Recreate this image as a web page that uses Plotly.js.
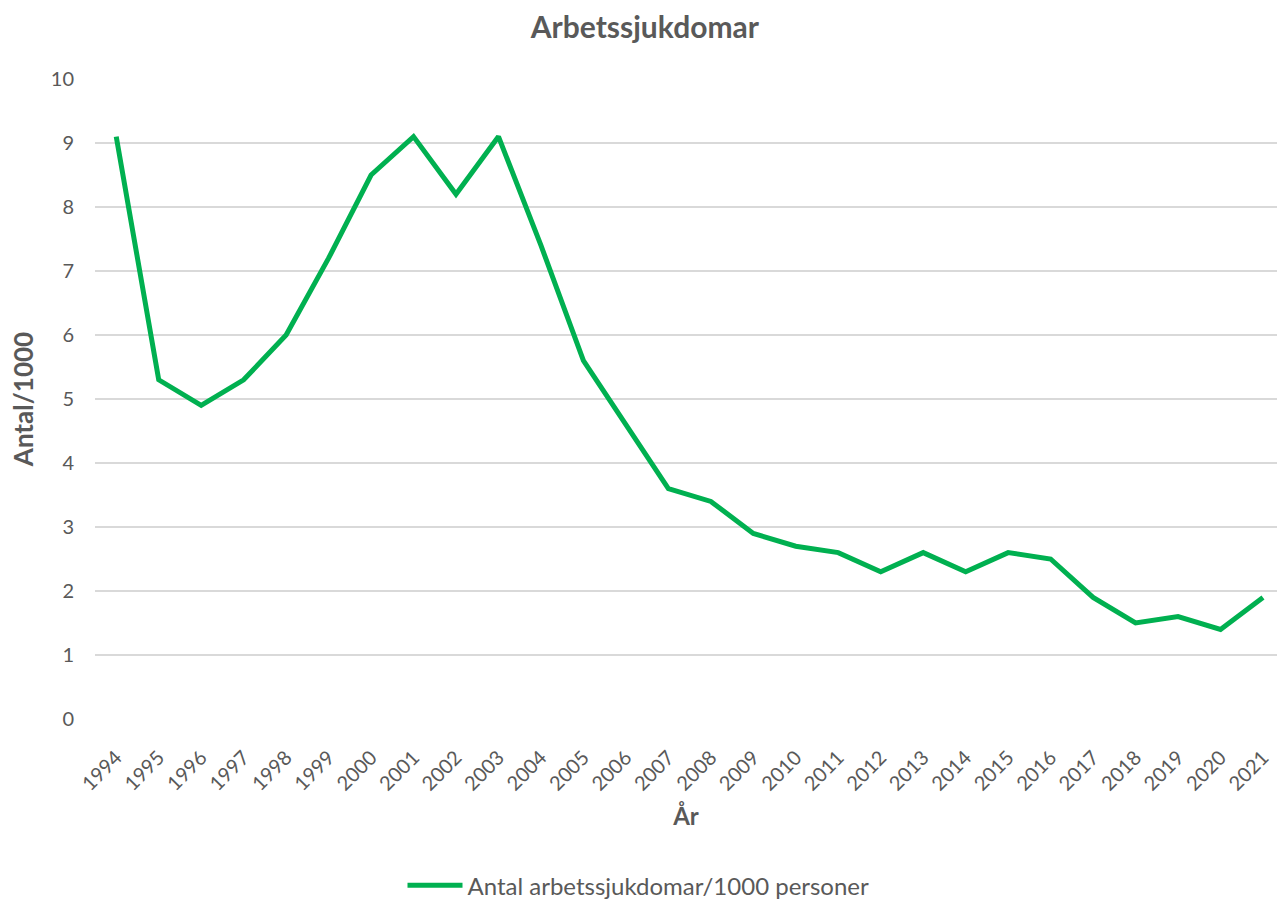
<!DOCTYPE html>
<html><head><meta charset="utf-8">
<script src="https://cdn.plot.ly/plotly-3.0.1.min.js"></script>
<style>body{margin:0;padding:0;background:#fff}#chart{width:1277px;height:902px}</style>
</head><body><div id="chart"></div>
<script>
const years = ["1994","1995","1996","1997","1998","1999","2000","2001","2002","2003","2004","2005","2006","2007","2008","2009","2010","2011","2012","2013","2014","2015","2016","2017","2018","2019","2020","2021"];
const values = [9.1,5.3,4.9,5.3,6.0,7.2,8.5,9.1,8.2,9.1,7.4,5.6,4.6,3.6,3.4,2.9,2.7,2.6,2.3,2.6,2.3,2.6,2.5,1.9,1.5,1.6,1.4,1.9];
const seriesName = "Antal arbetssjukdomar/1000 personer";
const fontFam = "Lato, 'Open Sans', sans-serif";
Plotly.newPlot('chart', [{
  x: years, y: values, type: 'scatter', mode: 'lines', name: seriesName,
  line: {color: '#00B050', width: 5, shape: 'linear'}
}], {
  width: 1277, height: 902,
  margin: {l: 95, r: 0, t: 79, b: 183},
  paper_bgcolor: '#fff', plot_bgcolor: '#fff',
  font: {family: fontFam, color: '#595959', size: 20},
  title: {text: '<b>Arbetssjukdomar</b>', x: 0.505, xanchor: 'center', y: 0.969, yanchor: 'middle', font: {size: 30, color: '#595959', family: fontFam}},
  xaxis: {type: 'category', range: [-0.5, 27.33], tickangle: -45, showgrid: false, zeroline: false, showline: false, ticks: '', automargin: false, ticklabelstandoff: 22, tickfont: {size: 20, color: '#595959'},
    title: {text: '<b>År</b>', font: {size: 24, color: '#595959'}, standoff: 14}},
  yaxis: {range: [0, 10], dtick: 1, showgrid: true, gridcolor: '#d9d9d9', gridwidth: 1.5, zeroline: false, showline: false, ticks: '', automargin: false, ticklabelstandoff: 20, tickfont: {size: 20, color: '#595959'},
    title: {text: '<b>Antal/1000</b>', font: {size: 26, color: '#595959'}}},
  showlegend: true,
  legend: {orientation: 'h', x: 0.5, xanchor: 'center', xref: 'container', yref: 'container', y: 0.018, yanchor: 'middle', itemwidth: 55, font: {size: 24, color: '#595959'}},
}, {displayModeBar: false});
</script></body></html>
